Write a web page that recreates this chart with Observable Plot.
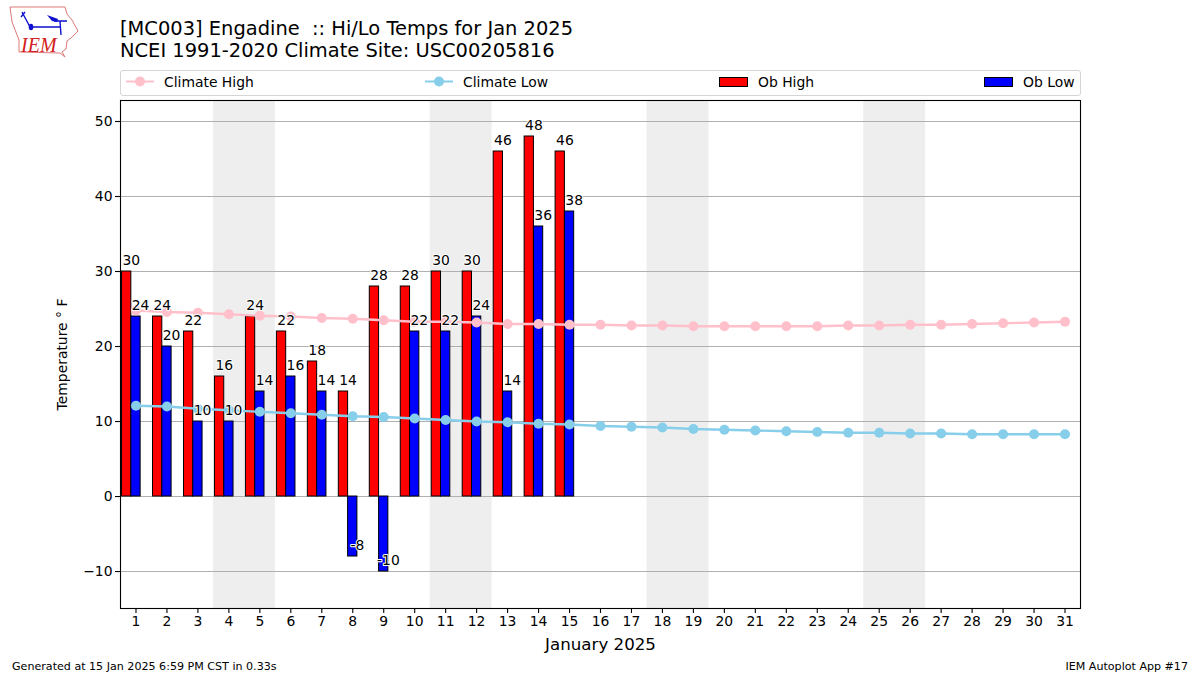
<!DOCTYPE html>
<html>
<head>
<meta charset="utf-8">
<script src="https://cdn.jsdelivr.net/npm/d3@7"></script>
<script src="https://cdn.jsdelivr.net/npm/@observablehq/plot@0.6"></script>
<style>
  html, body { margin: 0; padding: 0; background: #fff; width: 1200px; height: 675px; overflow: hidden; font-family: "DejaVu Sans", sans-serif; color: #000; }
  #page { position: relative; width: 1200px; height: 675px; }
  #header { position: relative; height: 95px; }
  #logo { position: absolute; left: 0; top: 0; }
  #title { position: absolute; left: 120px; top: 18px; font-size: 19.45px; line-height: 22px; white-space: pre; }
  #legend { position: absolute; left: 120px; top: 70px; width: 959px; height: 24px; border: 1px solid #d5d5d5; border-radius: 3px; font-size: 13.9px; }
  .item { position: absolute; top: 0; height: 24px; line-height: 23px; white-space: pre; }
  .item svg { position: absolute; top: 0; left: -39px; }
  #chart svg { display: block; }
  #foot-l { position: absolute; left: 12px; top: 660px; font-size: 11.1px; }
  #foot-r { position: absolute; right: 12px; top: 660px; font-size: 11.1px; }
</style>
</head>
<body>
<div id="page">
  <div id="header">
    <svg id="logo" width="84" height="60" viewBox="0 0 84 60">
      <path d="M10 7 L65 7 L67 14 L72 20 L78 31 L71 38 L67 41 L66 49 L62 52 L65 57 L60 53 L19 52 L19 40 L12 22 Z" fill="none" stroke="#e07878" stroke-width="1"/>
      <path d="M31 27 L60 27 M54 21 L67 21 M60 21 L61 35 M22 12 L30 27 M21 17 L25 12" fill="none" stroke="#1010d0" stroke-width="1.4"/>
      <path d="M47 15 L58 19 L57 22 L52 21 Z" fill="#1010d0"/>
      <ellipse cx="31" cy="27" rx="2.3" ry="3.3" fill="#1010d0"/>
      <text x="21" y="52" font-family="Liberation Serif" font-style="italic" font-size="20" fill="#d42020">IEM</text>
    </svg>
    <div id="title"></div>
    <div id="legend"></div>
  </div>
  <div id="chart"></div>
  <div id="foot-l"></div>
  <div id="foot-r"></div>
</div>
<script>
const titleLines = ["[MC003] Engadine  :: Hi/Lo Temps for Jan 2025", "NCEI 1991-2020 Climate Site: USC00205816"];
const footLeft = "Generated at 15 Jan 2025 6:59 PM CST in 0.33s";
const footRight = "IEM Autoplot App #17";
const xLabel = "January 2025";
const yLabel = "Temperature \u00B0 F";

const days = d3.range(1, 32);
const obDays = d3.range(1, 16);
const obHigh = [30, 24, 22, 16, 24, 22, 18, 14, 28, 28, 30, 30, 46, 48, 46];
const obLow = [24, 20, 10, 10, 14, 16, 14, -8, -10, 22, 22, 24, 14, 36, 38];
const climateHigh = [24.8, 24.6, 24.5, 24.3, 24.1, 24.0, 23.8, 23.7, 23.5, 23.3, 23.3, 23.2, 23.0, 23.0, 22.9, 22.9, 22.8, 22.8, 22.7, 22.7, 22.7, 22.7, 22.7, 22.8, 22.8, 22.9, 22.9, 23.0, 23.1, 23.2, 23.3];
const climateLow = [12.1, 12.0, 11.7, 11.5, 11.3, 11.1, 10.9, 10.7, 10.6, 10.4, 10.2, 10.0, 9.9, 9.7, 9.6, 9.4, 9.3, 9.2, 9.0, 8.9, 8.8, 8.7, 8.6, 8.5, 8.5, 8.4, 8.4, 8.3, 8.3, 8.3, 8.3];
const weekends = [[3.5, 5.5], [10.5, 12.5], [17.5, 19.5], [24.5, 26.5]];
const yTicks = [-10, 0, 10, 20, 30, 40, 50];
const barWidth = 0.3;

const COLORS = { high: "#ff0000", low: "#0000ff", cHigh: "#ffc0cb", cLow: "#87ceeb", grid: "#b0b0b0", shade: "#eeeeee" };

document.getElementById("title").textContent = titleLines.join("\n");
document.getElementById("foot-l").textContent = footLeft;
document.getElementById("foot-r").textContent = footRight;

const legendItems = [
  { label: "Climate High", left: 43, kind: "line", color: COLORS.cHigh },
  { label: "Climate Low", left: 342, kind: "line", color: COLORS.cLow },
  { label: "Ob High", left: 637, kind: "box", color: COLORS.high },
  { label: "Ob Low", left: 902, kind: "box", color: COLORS.low }
];
const legend = document.getElementById("legend");
for (const it of legendItems) {
  const el = document.createElement("div");
  el.className = "item";
  el.style.left = it.left + "px";
  el.textContent = it.label;
  const swatch = it.kind === "line"
    ? `<line x1="1" x2="29" y1="10.5" y2="10.5" stroke="${it.color}" stroke-width="2"/><circle cx="15" cy="10.5" r="5" fill="${it.color}"/>`
    : `<rect x="0.5" y="6.5" width="28" height="9" fill="${it.color}" stroke="#000" stroke-width="1"/>`;
  el.insertAdjacentHTML("afterbegin", `<svg width="30" height="24">${swatch}</svg>`);
  legend.appendChild(el);
}

const highRows = obDays.map((day, i) => ({ day, value: obHigh[i] }));
const lowRows = obDays.map((day, i) => ({ day, value: obLow[i] }));
const cHighRows = days.map((day, i) => ({ day, value: climateHigh[i] }));
const cLowRows = days.map((day, i) => ({ day, value: climateLow[i] }));
const shadeRows = weekends.map(([a, b]) => ({ a, b }));

const labelOpts = { y: "value", text: d => String(d.value), fontSize: 13.9, lineAnchor: "bottom", dy: -7, fill: "#000", stroke: "#fff", strokeWidth: 2, paintOrder: "stroke", fontFamily: "DejaVu Sans" };

const plot = Plot.plot({
  width: 1200,
  height: 560,
  marginTop: 5,
  marginBottom: 47,
  marginLeft: 120,
  marginRight: 120,
  style: { background: "#fff", fontFamily: "DejaVu Sans", fontSize: "13.9px", color: "#000", overflow: "visible" },
  x: { type: "linear", domain: [0.5, 31.5] },
  y: { domain: [-14.93, 52.8] },
  marks: [
    Plot.rectY(shadeRows, { x1: "a", x2: "b", y1: -14.93, y2: 52.8, fill: COLORS.shade }),
    Plot.ruleY(yTicks, { stroke: COLORS.grid, strokeWidth: 1.1 }),
    Plot.rectY(highRows, { x1: d => d.day - 1.5 * barWidth, x2: d => d.day - 0.5 * barWidth, y1: 0, y2: "value", fill: COLORS.high, stroke: "#000", strokeWidth: 1 }),
    Plot.rectY(lowRows, { x1: d => d.day - 0.5 * barWidth, x2: d => d.day + 0.5 * barWidth, y1: 0, y2: "value", fill: COLORS.low, stroke: "#000", strokeWidth: 1 }),
    Plot.line(cHighRows, { x: "day", y: "value", stroke: COLORS.cHigh, strokeWidth: 2.3 }),
    Plot.dot(cHighRows, { x: "day", y: "value", r: 5, fill: COLORS.cHigh }),
    Plot.line(cLowRows, { x: "day", y: "value", stroke: COLORS.cLow, strokeWidth: 2.3 }),
    Plot.dot(cLowRows, { x: "day", y: "value", r: 5, fill: COLORS.cLow }),
    Plot.text(highRows, { ...labelOpts, x: d => d.day - barWidth / 2 }),
    Plot.text(lowRows, { ...labelOpts, x: d => d.day + barWidth / 2 }),
    Plot.frame({ stroke: "#000", strokeWidth: 1.1 }),
    Plot.axisX({ ticks: days, tickFormat: d => String(d), tickSize: 5, tickPadding: 3, fontSize: 13.9, label: null, stroke: "#000", strokeWidth: 1.1 }),
    Plot.axisY({ ticks: yTicks, tickFormat: d => d < 0 ? "\u2212" + Math.abs(d) : String(d), tickSize: 5, tickPadding: 3, fontSize: 13.9, label: yLabel, labelAnchor: "center", labelArrow: "none", labelOffset: 63, stroke: "#000", strokeWidth: 1.1 }),
    Plot.text([xLabel], { x: 16, frameAnchor: "bottom", text: d => d, fontSize: 16.67, dy: 41, fill: "#000", fontFamily: "DejaVu Sans" })
  ]
});
document.getElementById("chart").appendChild(plot);
</script>
</body>
</html>
